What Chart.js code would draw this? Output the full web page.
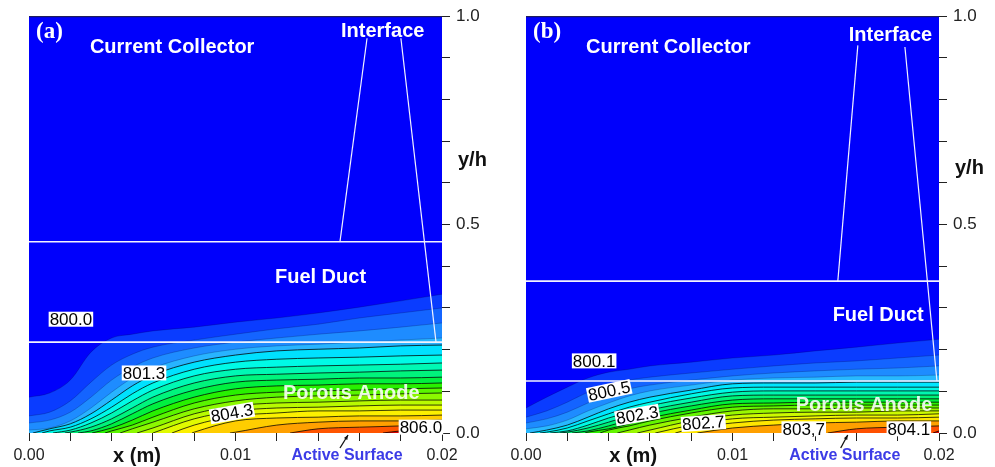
<!DOCTYPE html>
<html>
<head>
<meta charset="utf-8">
<script src="https://cdn.jsdelivr.net/npm/chart.js@4.4.1/dist/chart.umd.min.js"></script>
<style>
  html, body { margin: 0; padding: 0; background: #fff; }
  .panel { position: absolute; top: 0; width: 497px; height: 467px; }
  #wrapA { left: 0; }
  #wrapB { left: 497px; }
</style>
</head>
<body>
<div class="panel" id="wrapA"><canvas id="chartA" width="497" height="467"></canvas></div>
<div class="panel" id="wrapB"><canvas id="chartB" width="497" height="467"></canvas></div>
<script>
// x positions (m) where the isotherm heights were read
const xGrid = [0, 0.001, 0.002, 0.003, 0.004, 0.005, 0.006, 0.008, 0.010, 0.012, 0.014, 0.016, 0.018, 0.020];

// ---- panel (a) ----
// x where an isotherm leaves the active surface (null = it meets the inlet edge)
const startA = [null, null, null, null, 0.00019, 0.00063, 0.00116, 0.00174, 0.00237, 0.00305, 0.00368,
  0.00441, 0.00523, 0.00600, 0.00692, 0.00789, 0.00973, 0.01264, 0.01714];
// y/h of each isotherm at xGrid, coolest first
const isoA = [
  [0.086, 0.096, 0.127, 0.194, 0.228, 0.237, 0.245, 0.254, 0.266, 0.276, 0.288, 0.302, 0.317, 0.333],
  [0.041, 0.050, 0.077, 0.122, 0.163, 0.189, 0.206, 0.223, 0.237, 0.250, 0.261, 0.276, 0.288, 0.300],
  [0.024, 0.031, 0.050, 0.086, 0.127, 0.158, 0.180, 0.204, 0.218, 0.228, 0.237, 0.245, 0.254, 0.264],
  [0.007, 0.012, 0.029, 0.060, 0.098, 0.132, 0.156, 0.185, 0.201, 0.209, 0.213, 0.218, 0.223, 0.228],
  [null, 0.010, 0.022, 0.046, 0.079, 0.113, 0.139, 0.170, 0.187, 0.197, 0.201, 0.204, 0.209, 0.211],
  [null, 0.005, 0.014, 0.034, 0.062, 0.094, 0.120, 0.153, 0.170, 0.177, 0.180, 0.182, 0.185, 0.187],
  [null, null, 0.007, 0.024, 0.048, 0.077, 0.103, 0.137, 0.153, 0.158, 0.161, 0.163, 0.165, 0.168],
  [null, null, 0.002, 0.014, 0.034, 0.060, 0.086, 0.120, 0.137, 0.141, 0.144, 0.146, 0.149, 0.151],
  [null, null, null, 0.005, 0.022, 0.046, 0.070, 0.103, 0.122, 0.127, 0.129, 0.132, 0.132, 0.134],
  [null, null, null, null, 0.012, 0.031, 0.053, 0.086, 0.106, 0.113, 0.115, 0.118, 0.118, 0.120],
  [null, null, null, null, 0.005, 0.019, 0.038, 0.072, 0.091, 0.098, 0.101, 0.103, 0.106, 0.108],
  [null, null, null, null, null, 0.010, 0.026, 0.058, 0.077, 0.086, 0.089, 0.091, 0.094, 0.096],
  [null, null, null, null, null, null, 0.012, 0.046, 0.065, 0.072, 0.074, 0.077, 0.079, 0.079],
  [null, null, null, null, null, null, null, 0.034, 0.053, 0.060, 0.062, 0.065, 0.067, 0.067],
  [null, null, null, null, null, null, null, 0.019, 0.041, 0.048, 0.053, 0.053, 0.055, 0.055],
  [null, null, null, null, null, null, null, 0.002, 0.029, 0.036, 0.038, 0.041, 0.041, 0.043],
  [null, null, null, null, null, null, null, null, 0.002, 0.019, 0.026, 0.029, 0.029, 0.031],
  [null, null, null, null, null, null, null, null, null, null, 0.010, 0.014, 0.017, 0.022],
  [null, null, null, null, null, null, null, null, null, null, null, null, 0.005, 0.010]
];
const bandsA = ['#0000fc', '#0a3cff', '#1464ff', '#1e8cff', '#28b4ff', '#00e1ff', '#00fae6', '#00f8b4',
  '#00f47c', '#00f040', '#28f000', '#5af500', '#8cf800', '#b9fa00', '#e1fa00', '#fcf000', '#ffcd00',
  '#ffa000', '#ff5500', '#e10000'];
const layerCutsA = [0.459, 0.218];
const pointersA = [[0.01637, 0.947, 0.01506, 0.459], [0.01801, 0.947, 0.01971, 0.218]];
const regionTextA = [['(a)', 0.00034, 0.962], ['Current Collector', 0.00295, 0.926], ['Interface', 0.01511, 0.964],
  ['Fuel Duct', 0.01191, 0.374], ['Porous Anode', 0.0123, 0.096]];
const levelTextA = [['800.0', 0.00203, 0.273, 0], ['801.3', 0.00557, 0.144, 0], ['804.3', 0.00983, 0.048, -10],
  ['806.0', 0.01898, 0.014, 0]];

// ---- panel (b) ----
const startB = [null, null, null, null, 0.00019, 0.00068, 0.00117, 0.00165, 0.00223, 0.00286, 0.00359,
  0.00442, 0.00539, 0.00626, 0.00723, 0.00830, 0.01461, 0.01971];
const isoB = [
  [0.060, 0.086, 0.110, 0.132, 0.146, 0.153, 0.161, 0.170, 0.180, 0.187, 0.197, 0.206, 0.216, 0.225],
  [0.038, 0.053, 0.074, 0.098, 0.115, 0.127, 0.134, 0.144, 0.153, 0.161, 0.168, 0.173, 0.180, 0.187],
  [0.024, 0.034, 0.050, 0.072, 0.091, 0.106, 0.115, 0.127, 0.137, 0.144, 0.149, 0.153, 0.156, 0.161],
  [0.010, 0.017, 0.031, 0.053, 0.072, 0.089, 0.101, 0.115, 0.127, 0.132, 0.134, 0.137, 0.137, 0.139],
  [null, 0.007, 0.019, 0.038, 0.058, 0.074, 0.086, 0.103, 0.118, 0.120, 0.120, 0.122, 0.122, 0.122],
  [null, 0.002, 0.012, 0.029, 0.046, 0.062, 0.074, 0.094, 0.108, 0.110, 0.110, 0.110, 0.110, 0.110],
  [null, null, 0.005, 0.019, 0.036, 0.050, 0.065, 0.084, 0.098, 0.101, 0.101, 0.101, 0.101, 0.101],
  [null, null, 0.002, 0.012, 0.026, 0.041, 0.055, 0.074, 0.089, 0.091, 0.091, 0.091, 0.091, 0.091],
  [null, null, null, 0.005, 0.017, 0.031, 0.046, 0.065, 0.079, 0.082, 0.082, 0.082, 0.082, 0.082],
  [null, null, null, 0.002, 0.010, 0.022, 0.036, 0.055, 0.070, 0.072, 0.074, 0.074, 0.074, 0.074],
  [null, null, null, null, 0.007, 0.017, 0.029, 0.048, 0.062, 0.065, 0.067, 0.067, 0.067, 0.067],
  [null, null, null, null, null, 0.007, 0.019, 0.038, 0.053, 0.058, 0.058, 0.060, 0.060, 0.060],
  [null, null, null, null, null, null, 0.007, 0.029, 0.043, 0.048, 0.050, 0.050, 0.053, 0.053],
  [null, null, null, null, null, null, null, 0.019, 0.034, 0.038, 0.041, 0.043, 0.043, 0.046],
  [null, null, null, null, null, null, null, 0.010, 0.024, 0.031, 0.034, 0.036, 0.036, 0.038],
  [null, null, null, null, null, null, null, null, 0.012, 0.019, 0.024, 0.026, 0.029, 0.029],
  [null, null, null, null, null, null, null, null, null, null, null, 0.010, 0.014, 0.017],
  [null, null, null, null, null, null, null, null, null, null, null, null, null, 0.005]
];
const bandsB = ['#0000fc', '#0a3cff', '#1464ff', '#1e8cff', '#28b9ff', '#00e6ff', '#00fae6', '#00f6b0',
  '#00f278', '#00f03c', '#2cf000', '#64f500', '#9af800', '#cdfa00', '#f2f800', '#ffe600', '#ffa000',
  '#ff5000', '#e10000'];
const layerCutsB = [0.3645, 0.1247];
const pointersB = [[0.01607, 0.930, 0.0151, 0.3645], [0.01835, 0.926, 0.0199, 0.1247]];
const regionTextB = [['(b)', 0.00034, 0.962], ['Current Collector', 0.00291, 0.926], ['Interface', 0.01563, 0.954],
  ['Fuel Duct', 0.01485, 0.283], ['Porous Anode', 0.01306, 0.067]];
const levelTextB = [['800.1', 0.0033, 0.173, 0], ['800.5', 0.00403, 0.101, -12], ['802.3', 0.00539, 0.043, -10],
  ['802.7', 0.00859, 0.024, -4], ['803,7', 0.01345, 0.010, 0], ['804.1', 0.01854, 0.010, 0]];

const xTickLabels = [0, 0.01, 0.02];
const yTickLabels = [0, 0.5, 1];

function isoDatasets(starts, lines, bands) {
  const sets = lines.map((ys, k) => {
    const pts = [];
    if (starts[k] !== null) pts.push({x: starts[k], y: 0});
    ys.forEach((y, i) => {
      if (y !== null) pts.push({x: xGrid[i], y: y});
    });
    return {
      data: pts,
      fill: 'start',
      backgroundColor: bands[k + 1],
      borderColor: k < 4 ? 'rgba(0,0,60,0.25)' : 'rgba(0,0,0,0.85)',
      borderWidth: 0.9,
      pointRadius: 0,
      cubicInterpolationMode: 'monotone'
    };
  });
  // hottest first so its fill is painted last
  return sets.reverse();
}

function overlayDatasets(cuts, pointers) {
  const sets = [];
  cuts.forEach(h => sets.push({
    data: [{x: 0, y: h}, {x: 0.02, y: h}],
    borderColor: '#f2f2ff', borderWidth: 1.6, pointRadius: 0, fill: false, tension: 0
  }));
  pointers.forEach(p => sets.push({
    data: [{x: p[0], y: p[1]}, {x: p[2], y: p[3]}],
    borderColor: '#f2f2ff', borderWidth: 1.2, pointRadius: 0, fill: false, tension: 0
  }));
  return sets;
}

const panelDecor = {
  id: 'panelDecor',
  beforeDraw(chart, args, opts) {
    const {ctx, chartArea: a} = chart;
    ctx.save();
    ctx.fillStyle = opts.background;
    ctx.fillRect(a.left, a.top, a.right - a.left, a.bottom - a.top);
    ctx.restore();
  },
  afterDatasetsDraw(chart, args, opts) {
    const {ctx, chartArea: a, scales: {x, y}} = chart;
    ctx.save();
    ctx.strokeStyle = '#1a1a3a';
    ctx.lineWidth = 1;
    ctx.beginPath();
    ctx.moveTo(a.left, a.top + 0.5);
    ctx.lineTo(a.right, a.top + 0.5);
    ctx.stroke();

    ctx.textBaseline = 'middle';
    ctx.textAlign = 'left';
    opts.regions.forEach(([txt, vx, vy]) => {
      ctx.font = txt.startsWith('(') ? 'bold 23px "Liberation Serif"' : 'bold 20px "Liberation Sans"';
      ctx.fillStyle = txt === 'Porous Anode' ? 'rgba(255,255,255,0.88)' : '#ffffff';
      ctx.fillText(txt, x.getPixelForValue(vx), y.getPixelForValue(vy));
    });

    ctx.font = '17px "Liberation Sans"';
    ctx.textAlign = 'center';
    opts.levels.forEach(([txt, vx, vy, deg]) => {
      const w = ctx.measureText(txt).width + 2;
      ctx.save();
      ctx.translate(x.getPixelForValue(vx), y.getPixelForValue(vy));
      ctx.rotate(deg * Math.PI / 180);
      ctx.fillStyle = '#ffffff';
      ctx.fillRect(-w / 2, -7.5, w, 15);
      ctx.fillStyle = '#000000';
      ctx.fillText(txt, 0, 1);
      ctx.restore();
    });
    ctx.restore();
  },
  afterDraw(chart, args, opts) {
    const {ctx, chartArea: a, scales: {x, y}} = chart;
    ctx.save();
    ctx.textBaseline = 'middle';
    ctx.textAlign = 'center';
    ctx.fillStyle = '#111';
    ctx.font = 'bold 20px "Liberation Sans"';
    ctx.fillText('x (m)', x.getPixelForValue(opts.xName), a.bottom + 23);
    ctx.fillStyle = '#3c3ce6';
    ctx.font = 'bold 16px "Liberation Sans"';
    ctx.fillText('Active Surface', x.getPixelForValue(opts.surface), a.bottom + 23);

    // little arrow pointing at the active surface
    const x0 = x.getPixelForValue(opts.arrow[0]), y0 = a.bottom + 15;
    const x1 = x.getPixelForValue(opts.arrow[1]), y1 = a.bottom + 2;
    const ang = Math.atan2(y1 - y0, x1 - x0);
    ctx.strokeStyle = '#111';
    ctx.fillStyle = '#111';
    ctx.lineWidth = 1.3;
    ctx.beginPath();
    ctx.moveTo(x0, y0);
    ctx.lineTo(x1, y1);
    ctx.stroke();
    ctx.beginPath();
    ctx.moveTo(x1, y1);
    ctx.lineTo(x1 - 5 * Math.cos(ang - 0.4), y1 - 5 * Math.sin(ang - 0.4));
    ctx.lineTo(x1 - 5 * Math.cos(ang + 0.4), y1 - 5 * Math.sin(ang + 0.4));
    ctx.closePath();
    ctx.fill();

    ctx.textAlign = 'left';
    ctx.fillStyle = '#111';
    ctx.font = 'bold 20px "Liberation Sans"';
    ctx.fillText('y/h', a.right + 16, y.getPixelForValue(opts.yName));
    ctx.restore();
  }
};

function isLabelled(v, list) {
  return list.some(t => Math.abs(v - t) < 1e-7);
}

function makePanel(canvasId, starts, lines, bands, cuts, pointers, regions, levels, extra) {
  const ctx = document.getElementById(canvasId).getContext('2d');
  return new Chart(ctx, {
    type: 'line',
    data: {
      datasets: overlayDatasets(cuts, pointers).concat(isoDatasets(starts, lines, bands))
    },
    plugins: [panelDecor],
    options: {
      responsive: false,
      animation: false,
      devicePixelRatio: 1,
      events: [],
      layout: { padding: { left: 29, top: 16, right: 0, bottom: 0 } },
      plugins: {
        legend: { display: false },
        tooltip: { enabled: false },
        filler: { drawTime: 'beforeDatasetsDraw' },
        panelDecor: Object.assign({ background: bands[0], regions: regions, levels: levels }, extra)
      },
      scales: {
        x: {
          type: 'linear',
          min: 0,
          max: 0.02,
          afterFit: s => { s.height = 34; },
          border: { display: false },
          grid: { drawOnChartArea: false, drawTicks: true, tickLength: 8, color: '#222', lineWidth: 1 },
          ticks: {
            stepSize: 0.002,
            autoSkip: false,
            maxRotation: 0,
            padding: 5,
            color: '#222',
            font: { family: 'Liberation Sans', size: 16 },
            callback: v => isLabelled(v, xTickLabels) ? v.toFixed(2) : ''
          }
        },
        y: {
          type: 'linear',
          position: 'right',
          min: 0,
          max: 1,
          afterFit: s => { s.width = 55; },
          border: { display: false },
          grid: { drawOnChartArea: false, drawTicks: true, tickLength: 8, color: '#222', lineWidth: 1 },
          ticks: {
            stepSize: 0.1,
            autoSkip: false,
            padding: 6,
            color: '#222',
            font: { family: 'Liberation Sans', size: 17 },
            callback: v => isLabelled(v, yTickLabels) ? v.toFixed(1) : ''
          }
        }
      }
    }
  });
}

makePanel('chartA', startA, isoA, bandsA, layerCutsA, pointersA, regionTextA, levelTextA,
  { xName: 0.00523, surface: 0.0154, arrow: [0.01506, 0.01545], yName: 0.655 });
makePanel('chartB', startB, isoB, bandsB, layerCutsB, pointersB, regionTextB, levelTextB,
  { xName: 0.00519, surface: 0.01544, arrow: [0.01524, 0.01558], yName: 0.635 });
</script>
</body>
</html>
